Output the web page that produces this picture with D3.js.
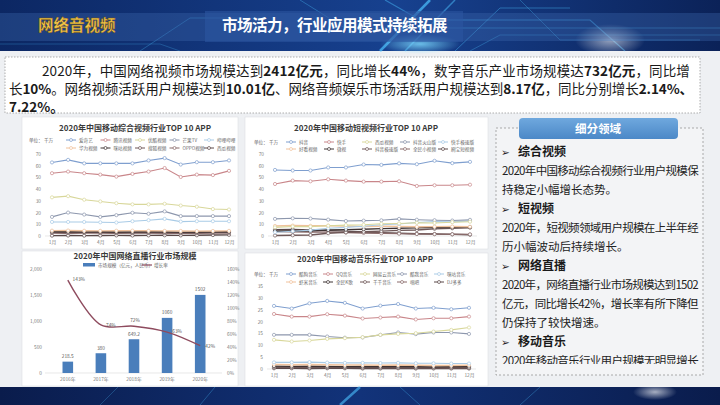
<!DOCTYPE html>
<html>
<head>
<meta charset="utf-8">
<script src="https://cdn.jsdelivr.net/npm/d3@7"></script>
<style>
  body { margin: 0; background: #fff; }
  svg { display: block; font-family: "Noto Sans CJK SC", "Noto Sans", "DejaVu Sans", sans-serif; }
</style>
</head>
<body>
<script>
// ---- data ----
const months = ['1月','2月','3月','4月','5月','6月','7月','8月','9月','10月','11月','12月'];

const videoApps = ['爱奇艺','腾讯视频','优酷视频','芒果TV','哔哩哔哩','华为视频','咪咕视频','搜狐视频','OPPO视频','西瓜视频'];
const videoUsers = [
  [62.8, 65, 62, 62, 62, 62, 64.5, 66.5, 61, 63, 63, 64.5],
  [53.6, 55, 53.6, 52.4, 50.7, 53, 55, 58, 50.4, 52.4, 52, 55.6],
  [33, 34, 31, 29.5, 28, 27, 27, 27.5, 26, 25, 23, 22.6],
  [16.3, 20, 18.3, 16.3, 17.8, 19.8, 19, 21, 17, 17, 17, 17],
  [12, 12, 12, 11.7, 11.5, 12.6, 13.5, 14.6, 12.3, 12.6, 12.6, 12.6],
  [4.6, 4.7, 4.5, 4.4, 4.5, 4.6, 4.5, 4.4, 4.3, 4.2, 4.3, 4.4],
  [3.8, 3.6, 3.5, 3.6, 3.4, 3.5, 3.6, 3.5, 3.3, 3.4, 3.5, 3.6],
  [3.1, 3.0, 3.2, 3.1, 3.0, 2.9, 3.0, 3.1, 2.9, 3.0, 3.1, 3.2],
  [2.5, 2.4, 2.6, 2.5, 2.4, 2.5, 2.6, 2.4, 2.3, 2.4, 2.5, 2.6],
  [0.3, 0.4, 0.3, 0.4, 0.5, 0.4, 0.5, 0.6, 0.5, 0.6, 0.8, 1.0]
];

const shortApps = ['抖音','快手','西瓜视频','抖音火山版','快手极速版','好看视频','微视','抖音极速版','全民小视频','刷宝短视频'];
const shortUsers = [
  [56.4, 55.9, 55.9, 58.5, 58.5, 61, 60.7, 62, 61.3, 64.2, 62.2, 63.3],
  [44.4, 47.3, 46.7, 48.4, 47.3, 46.4, 46.4, 46.7, 42.7, 43.3, 43.3, 43.8],
  [7.4, 8.1, 8.0, 8.8, 9.3, 9.6, 10.4, 10.7, 11.3, 11.1, 11.8, 12.2],
  [14.6, 15.1, 14.9, 14.0, 12.8, 13.1, 13.4, 14.6, 13.9, 13.5, 13.2, 13.8],
  [3.2, 4.1, 5.0, 6.6, 7.4, 8.3, 9.6, 10.2, 11.5, 12.4, 12.1, 12.8],
  [8.6, 8.9, 8.7, 8.8, 8.4, 8.1, 8.3, 8.2, 7.9, 8.0, 8.1, 7.9],
  [4.1, 4.3, 4.5, 5.1, 5.4, 5.8, 6.3, 6.6, 6.9, 7.2, 7.4, 7.6],
  [0.4, 0.6, 0.8, 2.4, 3.1, 3.6, 4.2, 4.8, 5.1, 6.1, 6.6, 7.1],
  [3.8, 3.5, 3.4, 3.3, 3.0, 2.6, 2.3, 2.0, 1.7, 1.6, 1.5, 1.4],
  [5.3, 5.6, 5.1, 4.6, 4.2, 3.4, 2.8, 2.4, 1.9, 1.7, 1.4, 1.1]
];

const musicApps = ['酷狗音乐','QQ音乐','网易云音乐','酷我音乐','咪咕音乐','虾米音乐','全民K歌','千千音乐','唱吧','DJ多多'];
const musicUsers = [
  [26.6, 25.5, 27.7, 28.7, 27.9, 25.5, 26.7, 27.4, 25.5, 25.8, 25.2, 25.8],
  [23.2, 22.1, 22.1, 23.1, 22.5, 21.3, 21.7, 22.1, 20.9, 21.4, 21.4, 22.1],
  [12.3, 11.6, 12.0, 12.7, 13.0, 13.4, 14.4, 14.8, 15.1, 15.8, 16.5, 17.5],
  [14.4, 14.4, 14.4, 13.7, 13.2, 13.3, 14.4, 15.4, 14.7, 15.4, 15.4, 14.8],
  [2.8, 2.8, 2.9, 2.7, 2.6, 2.6, 2.5, 2.6, 2.4, 2.4, 2.3, 2.3],
  [1.9, 1.8, 1.9, 1.8, 1.7, 1.7, 1.6, 1.7, 1.6, 1.5, 1.5, 1.6],
  [1.2, 1.1, 1.2, 1.1, 1.0, 1.1, 1.0, 1.1, 1.0, 0.9, 1.0, 1.0],
  [0.7, 0.7, 0.6, 0.7, 0.6, 0.6, 0.5, 0.6, 0.5, 0.5, 0.5, 0.4],
  [0.9, 0.8, 0.8, 0.9, 0.8, 0.7, 0.8, 0.8, 0.7, 0.7, 0.6, 0.7],
  [0.3, 0.3, 0.2, 0.3, 0.3, 0.2, 0.2, 0.3, 0.2, 0.2, 0.2, 0.2]
];

const liveYears = ['2016年','2017年','2018年','2019年','2020年'];
const liveMarket = [218.5, 380, 649.2, 1060, 1502];
const liveGrowth = [143, 74, 72, 63, 42];

// ---- styles ----
const palette = ['#7f9fcf','#c9868a','#d8d79a','#8d97ad','#a9cbe6','#f0c29c','#3f3434','#6e5757','#8a6b6b','#5a4848'];

const W = 720, H = 405;
const svg = d3.select('body').append('svg').attr('width', W).attr('height', H);
const defs = svg.append('defs');

const bg = defs.append('linearGradient').attr('id', 'bannerGrad');
bg.append('stop').attr('offset', 0).attr('stop-color', '#0c2763');
bg.append('stop').attr('offset', 0.55).attr('stop-color', '#17418f');
bg.append('stop').attr('offset', 1).attr('stop-color', '#0b2258');

const glow = defs.append('radialGradient').attr('id', 'glow');
glow.append('stop').attr('offset', 0).attr('stop-color', '#ffffff').attr('stop-opacity', 0.8);
glow.append('stop').attr('offset', 1).attr('stop-color', '#ffffff').attr('stop-opacity', 0);

const cglow = defs.append('radialGradient').attr('id', 'cglow');
cglow.append('stop').attr('offset', 0).attr('stop-color', '#7fdcff').attr('stop-opacity', 0.8);
cglow.append('stop').attr('offset', 1).attr('stop-color', '#7fdcff').attr('stop-opacity', 0);

const hdr = defs.append('linearGradient').attr('id', 'hdrGrad').attr('x1', 0).attr('x2', 0).attr('y1', 0).attr('y2', 1);
hdr.append('stop').attr('offset', 0).attr('stop-color', '#6fa8de');
hdr.append('stop').attr('offset', 1).attr('stop-color', '#4b88c7');

defs.append('clipPath').attr('id', 'panelClip')
  .append('rect').attr('x', 496).attr('y', 140).attr('width', 207).attr('height', 224);

// stretch a text to a target width with letter-spacing instead of textLength
function fitWidth(t, target) {
  const natural = t.node().getComputedTextLength();
  const n = t.text().length;
  t.attr('letter-spacing', ((target - natural) / n).toFixed(3));
}

// ---- page background ----
svg.append('rect').attr('width', W).attr('height', H).attr('fill', '#eef0f3');

// ---- banner ----
svg.append('rect').attr('width', W).attr('height', 51).attr('fill', 'url(#bannerGrad)');
const deco = svg.append('g').attr('fill', 'none').attr('stroke', '#4cc2ff');
[
  ['M300,0 L345,28 L720,28', 0.35, 1],
  ['M385,0 L420,20 L590,20 L625,51', 0.45, 1.2],
  ['M140,51 L190,18 L260,18', 0.3, 1],
  ['M455,51 L500,8 L570,8', 0.4, 1],
  ['M380,51 L430,0', 0.7, 2.5],
  ['M405,51 L455,0', 0.5, 1.5],
  ['M470,51 L500,35 L720,35', 0.3, 1],
  ['M0,44 L160,44 L180,51', 0.25, 1],
  ['M520,0 L560,40 L700,40', 0.3, 1]
].forEach(([d, op, w]) => deco.append('path').attr('d', d).attr('stroke-opacity', op).attr('stroke-width', w));
svg.append('ellipse').attr('cx', 420).attr('cy', 44).attr('rx', 40).attr('ry', 10).attr('fill', 'url(#cglow)');
svg.append('ellipse').attr('cx', 610).attr('cy', 40).attr('rx', 35).attr('ry', 16).attr('fill', 'url(#glow)').attr('opacity', 0.7);
svg.append('rect').attr('x', 0).attr('y', 13).attr('width', W).attr('height', 28).attr('fill', '#3f6bb0').attr('opacity', 0.35);
svg.append('rect').attr('x', 205).attr('y', 11).attr('width', 258).attr('height', 31).attr('fill', '#2d58a3').attr('opacity', 0.55);

svg.append('text').attr('x', 38).attr('y', 31).attr('font-size', 15.5).attr('font-weight', 'bold')
  .attr('fill', '#f4c64a').attr('stroke', '#6b4a10').attr('stroke-width', 0.4).text('网络音视频');
const title = svg.append('text').attr('x', 222).attr('y', 31).attr('font-size', 15.5).attr('font-weight', 'bold')
  .attr('fill', '#ffffff').text('市场活力，行业应用模式持续拓展');
fitWidth(title, 225);

// ---- summary text box ----
svg.append('rect').attr('x', 5).attr('y', 57).attr('width', 695).attr('height', 56)
  .attr('fill', '#ffffff').attr('stroke', '#9a9a9a').attr('stroke-width', 0.8).attr('stroke-dasharray', '1.5,1.5');

const summary = [
  { x: 42, y: 75.5, len: 648, parts: [
    ['2020年，中国网络视频市场规模达到', 0], ['2412亿元', 1], ['，同比增长', 0], ['44%', 1],
    ['，数字音乐产业市场规模达', 0], ['732亿元', 1], ['，同比增', 0]] },
  { x: 9, y: 93.5, len: 684, parts: [
    ['长', 0], ['10%', 1], ['。网络视频活跃用户规模达到', 0], ['10.01亿', 1],
    ['、网络音频娱乐市场活跃用户规模达到', 0], ['8.17亿', 1], ['，同比分别增长', 0], ['2.14%、', 1]] },
  { x: 9, y: 111.5, len: null, parts: [['7.22%。', 1]] }
];
summary.forEach(line => {
  const t = svg.append('text').attr('x', line.x).attr('y', line.y).attr('font-size', 13.5).attr('fill', '#1a1a1a');
  line.parts.forEach(([s, b]) => t.append('tspan').attr('font-weight', b ? 'bold' : 'normal').text(s));
  if (line.len) fitWidth(t, line.len);
});

// ---- chart cards ----
[[22, 117, 216, 132], [245, 117, 243, 132], [22, 251, 216, 135], [245, 253, 243, 133]].forEach(([x, y, w, h]) => {
  svg.append('rect').attr('x', x).attr('y', y).attr('width', w).attr('height', h)
    .attr('fill', '#ffffff').attr('stroke', '#dcdfe3').attr('stroke-width', 0.6);
});

function styleAxis(a, size) {
  a.attr('font-family', null).attr('font-size', size);
  a.select('.domain').remove();
  a.selectAll('text').attr('fill', '#7a7a7a');
}

function lineChart(o) {
  const g = svg.append('g');
  g.append('text').attr('x', o.cx).attr('y', o.titleY).attr('text-anchor', 'middle')
    .attr('font-size', 8).attr('font-weight', 'bold').attr('fill', '#3a3a3a').text(o.title);

  g.append('text').attr('x', o.unitX).attr('y', o.legY[0] + 1.7).attr('font-size', 4.6).attr('fill', '#666').text('单位：');
  g.append('text').attr('x', o.unitX + 15).attr('y', o.legY[0] + 1.7).attr('font-size', 4.6).attr('fill', '#666').text('千万');

  o.names.forEach((n, i) => {
    const lx = o.legX + (i % 5) * o.legStep, ly = o.legY[Math.floor(i / 5)];
    g.append('line').attr('x1', lx).attr('x2', lx + 10).attr('y1', ly).attr('y2', ly)
      .attr('stroke', palette[i]).attr('stroke-width', 1);
    g.append('circle').attr('cx', lx + 5).attr('cy', ly).attr('r', 1.5)
      .attr('fill', '#fff').attr('stroke', palette[i]).attr('stroke-width', 0.7);
    g.append('text').attr('x', lx + 13).attr('y', ly + 1.7).attr('font-size', 4.6).attr('fill', '#666').text(n);
  });

  const x = d3.scalePoint().domain(months).range([o.x0, o.x1]);
  const y = d3.scaleLinear().domain([0, o.yMax]).range([o.y0, o.y1]);

  g.append('g').attr('transform', `translate(${o.x0 - 7},0)`)
    .call(d3.axisLeft(y).tickValues(d3.range(0, o.yMax + 1, o.yStep)).tickSize(0).tickPadding(4))
    .call(a => styleAxis(a, 4.8));
  g.append('line').attr('x1', o.x0 - 7).attr('x2', o.x1 + 7).attr('y1', o.y0).attr('y2', o.y0)
    .attr('stroke', '#d9d9d9').attr('stroke-width', 0.6);
  g.append('g').attr('transform', `translate(0,${o.y0})`)
    .call(d3.axisBottom(x).tickSize(0).tickPadding(5))
    .call(a => styleAxis(a, 4.8));

  const line = d3.line().x((d, i) => x(months[i])).y(d => y(d));
  o.series.map((s, i) => i).reverse().forEach(i => {
    const s = o.series[i];
    g.append('path').attr('d', line(s)).attr('fill', 'none')
      .attr('stroke', palette[i]).attr('stroke-width', i >= 5 ? 1.4 : 1.1);
    g.selectAll(null).data(s).join('circle')
      .attr('cx', (d, j) => x(months[j])).attr('cy', d => y(d)).attr('r', 1.6)
      .attr('fill', '#fff').attr('stroke', palette[i]).attr('stroke-width', 0.7);
  });
}

lineChart({
  title: '2020年中国移动综合视频行业TOP 10 APP', cx: 135, titleY: 131,
  unitX: 29, legX: 66, legStep: 34.5, legY: [140, 148],
  names: videoApps, series: videoUsers,
  x0: 52, x1: 229, y0: 236, y1: 154, yMax: 70, yStep: 10
});
lineChart({
  title: '2020年中国移动短视频行业TOP 10 APP', cx: 366, titleY: 131,
  unitX: 254, legX: 286, legStep: 38, legY: [142, 149],
  names: shortApps, series: shortUsers,
  x0: 275, x1: 470, y0: 236, y1: 154, yMax: 70, yStep: 10
});
lineChart({
  title: '2020年中国移动音乐行业TOP 10 APP', cx: 365, titleY: 262,
  unitX: 254, legX: 286, legStep: 37, legY: [274, 282],
  names: musicApps, series: musicUsers,
  x0: 274, x1: 469, y0: 369, y1: 286, yMax: 35, yStep: 5
});

// ---- live streaming bar + line chart ----
(function () {
  const g = svg.append('g');
  const barColor = '#4a7ebb', lineColor = '#8e4b5e';
  g.append('text').attr('x', 135).attr('y', 259).attr('text-anchor', 'middle')
    .attr('font-size', 8).attr('font-weight', 'bold').attr('fill', '#3a3a3a').text('2020年中国网络直播行业市场规模');

  g.append('rect').attr('x', 83).attr('y', 263).attr('width', 12).attr('height', 3.5).attr('fill', barColor);
  g.append('text').attr('x', 98).attr('y', 266.5).attr('font-size', 4.6).attr('fill', '#666').text('市场规模（亿元，人民币）');
  g.append('line').attr('x1', 142).attr('x2', 152).attr('y1', 265).attr('y2', 265).attr('stroke', lineColor).attr('stroke-width', 1.2);
  g.append('text').attr('x', 154).attr('y', 266.5).attr('font-size', 4.6).attr('fill', '#666').text('增长率');

  const x = d3.scaleBand().domain(liveYears).range([40, 228]).padding(0.68);
  const yL = d3.scaleLinear().domain([0, 2000]).range([373, 269]);
  const yR = d3.scaleLinear().domain([0, 160]).range([373, 269]);

  g.append('g').attr('transform', 'translate(45,0)')
    .call(d3.axisLeft(yL).tickValues(d3.range(0, 2001, 500)).tickSize(0).tickPadding(3))
    .call(a => styleAxis(a, 4.8));
  g.append('g').attr('transform', 'translate(224,0)')
    .call(d3.axisRight(yR).tickValues(d3.range(0, 161, 20)).tickFormat(d => d + '%').tickSize(0).tickPadding(3))
    .call(a => styleAxis(a, 4.8));
  g.append('line').attr('x1', 45).attr('x2', 222).attr('y1', 373).attr('y2', 373)
    .attr('stroke', '#d9d9d9').attr('stroke-width', 0.6);
  g.append('g').attr('transform', 'translate(0,373)')
    .call(d3.axisBottom(x).tickSize(0).tickPadding(5))
    .call(a => styleAxis(a, 4.8));

  g.selectAll(null).data(liveMarket).join('rect')
    .attr('x', (d, i) => x(liveYears[i])).attr('width', x.bandwidth())
    .attr('y', d => yL(d)).attr('height', d => 373 - yL(d)).attr('fill', barColor);
  g.selectAll(null).data(liveMarket).join('text')
    .attr('x', (d, i) => x(liveYears[i]) + x.bandwidth() / 2).attr('y', d => yL(d) - 3.5)
    .attr('text-anchor', 'middle').attr('font-size', 4.8).attr('fill', '#595959').text(d => d);

  const cx = (i) => x(liveYears[i]) + x.bandwidth() / 2;
  const line = d3.line().x((d, i) => cx(i)).y(d => yR(d)).curve(d3.curveCatmullRom.alpha(0.5));
  g.append('path').attr('d', line(liveGrowth)).attr('fill', 'none')
    .attr('stroke', lineColor).attr('stroke-width', 1.4);
  const offs = [[11, 1], [10, 2], [1, -4], [10, 1], [10, 2]];
  g.selectAll(null).data(liveGrowth).join('text')
    .attr('x', (d, i) => cx(i) + offs[i][0]).attr('y', (d, i) => yR(d) + offs[i][1])
    .attr('text-anchor', 'middle').attr('font-size', 4.8).attr('fill', '#595959').text(d => d + '%');
})();

// ---- right panel ----
svg.append('rect').attr('x', 496).attr('y', 128).attr('width', 207).attr('height', 247)
  .attr('fill', '#f3f4f6').attr('stroke', '#8a8a8a').attr('stroke-width', 0.7).attr('stroke-dasharray', '2,2');
svg.append('rect').attr('x', 519).attr('y', 118).attr('width', 159).attr('height', 21).attr('rx', 4)
  .attr('fill', 'url(#hdrGrad)');
svg.append('text').attr('x', 598).attr('y', 133).attr('text-anchor', 'middle').attr('font-size', 11.5)
  .attr('font-weight', 'bold').attr('fill', '#ffffff').text('细分领域');

const panelLines = [
  ['综合视频', 'h'],
  ['2020年中国移动综合视频行业用户规模保', 'f'],
  ['持稳定小幅增长态势。', 's'],
  ['短视频', 'h'],
  ['2020年，短视频领域用户规模在上半年经', 'f'],
  ['历小幅波动后持续增长。', 's'],
  ['网络直播', 'h'],
  ['2020年，网络直播行业市场规模达到1502', 'f'],
  ['亿元，同比增长42%，增长率有所下降但', 'f'],
  ['仍保持了较快增速。', 's'],
  ['移动音乐', 'h'],
  ['2020年移动音乐行业用户规模无明显增长', 'f']
];
const pg = svg.append('g').attr('clip-path', 'url(#panelClip)');
panelLines.forEach(([s, k], i) => {
  const yy = 152 + i * 19 + 4.2;
  if (k === 'h') {
    pg.append('text').attr('x', 501).attr('y', yy).attr('font-size', 10.5).attr('fill', '#222').text('➢');
    pg.append('text').attr('x', 518).attr('y', yy).attr('font-size', 12).attr('font-weight', 'bold').attr('fill', '#1a1a1a').text(s);
  } else {
    const t = pg.append('text').attr('x', 502).attr('y', yy).attr('font-size', 11.5).attr('fill', '#222').text(s);
    if (k === 'f') fitWidth(t, 196);
  }
});

// ---- bottom band ----
const bb = defs.append('linearGradient').attr('id', 'bottomGrad');
bb.append('stop').attr('offset', 0).attr('stop-color', '#0a1c4c');
bb.append('stop').attr('offset', 0.5).attr('stop-color', '#12337a');
bb.append('stop').attr('offset', 1).attr('stop-color', '#0a1c4c');
svg.append('rect').attr('x', 0).attr('y', 387).attr('width', W).attr('height', 18).attr('fill', 'url(#bottomGrad)');
const bdeco = svg.append('g').attr('fill', 'none').attr('stroke', '#4cc2ff');
[
  ['M340,405 L360,387', 0.6, 2.5],
  ['M200,405 L215,387', 0.3, 1],
  ['M400,387 L420,405', 0.3, 1],
  ['M100,405 L118,387', 0.25, 1],
  ['M520,405 L540,387', 0.3, 1]
].forEach(([d, op, w]) => bdeco.append('path').attr('d', d).attr('stroke-opacity', op).attr('stroke-width', w));
svg.append('ellipse').attr('cx', 655).attr('cy', 392).attr('rx', 22).attr('ry', 8).attr('fill', 'url(#glow)').attr('opacity', 0.8);
</script>
</body>
</html>
